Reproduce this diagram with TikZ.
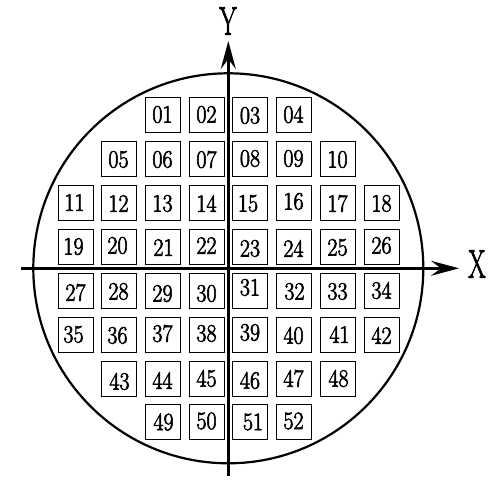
\documentclass[tikz,border=0pt]{standalone}
\usepackage{fontspec}
\newfontfamily\heavyfont[FakeBold=2.5]{Latin Modern Roman}
\usetikzlibrary{arrows.meta}
\begin{document}
\begin{tikzpicture}[x=1pt,y=-1pt,
  die/.style={draw, line width=0.8pt, minimum width=35pt, minimum height=35pt, inner sep=0pt},
  dielabel/.style={inner sep=0pt, font=\heavyfont\fontsize{25}{25}\selectfont},
  axis/.style={line width=2.6pt, -{Stealth[length=28pt,width=15pt,inset=10pt]}},
  axlabel/.style={font=\heavyfont\fontsize{40}{40}\selectfont, inner sep=0pt}]
\useasboundingbox (0,0) rectangle (498,494);
\node (wafer) [circle, draw, line width=2.2pt, minimum size=390pt, inner sep=0pt] at (228.3,268.3) {};
\coordinate (xs) at (21,268.3);
\coordinate (xe) at (459,268.3);
\coordinate (ys) at (228.3,475.5);
\coordinate (ye) at (228.3,41);
\draw[axis] (xs) -- (xe);
\draw[axis] (ys) -- (ye);
\node[axlabel] (xl) at (477,264) {\scalebox{0.62}[1]{X}};
\node[axlabel] (yl) at (228,21) {\scalebox{0.62}[1]{Y}};
\def\cx#1{\ifcase#1\or75.5\or118.5\or162.5\or206.5\or250\or293.5\or337.5\or381.5\fi}
\foreach \n/\c/\r/\dx/\dy in {
 01/3/114.5/0/0, 02/4/114.5/0/0, 03/5/114.5/0/1, 04/6/114.5/0/0,
 05/2/158.5/0/1, 06/3/158.5/0/1, 07/4/158.5/0/1, 08/5/158.5/0/0, 09/6/158.5/0/0, 10/7/158.5/0/1,
 11/1/202.5/-1/0, 12/2/202.5/0/1, 13/3/202.5/0/1, 14/4/202.5/0/1, 15/5/202.5/-2/1, 16/6/202.5/0/-1, 17/7/202.5/0/1, 18/8/202.5/0/1,
 19/1/246.5/-2/0, 20/2/246.5/-1/-1, 21/3/246.5/1/1, 22/4/246.5/0/-1, 23/5/246.5/0/2, 24/6/246.5/0/2, 25/7/246.5/0/1, 26/8/246.5/0/-1,
 27/1/290.5/0/2, 28/2/290.5/0/1, 29/3/290.5/0/3, 30/4/290.5/0/3, 31/5/290.5/0/-3, 32/6/290.5/1/1, 33/7/290.5/0/1, 34/8/290.5/0/0,
 35/1/334.5/-2/0, 36/2/334.5/-1/1, 37/3/334.5/0/-1, 38/4/334.5/0/-1, 39/5/334.5/0/-2, 40/6/334.5/0/1, 41/7/334.5/2/0, 42/8/334.5/0/1,
 43/2/378.5/1/3, 44/3/378.5/0/2, 45/4/378.5/0/0, 46/5/378.5/0/2, 47/6/378.5/0/0, 48/7/378.5/1/0,
 49/3/422/1/0, 50/4/422/0/-1, 51/5/422/3/0, 52/6/422/0/-1}
{
  \node[die] (d\n) at (\cx{\c},\r) {};
  \node[dielabel] (t\n) at ([xshift=\dx pt, yshift=-\dy pt]d\n.center) {\scalebox{0.88}[1]{\n}};
}
\end{tikzpicture}
\end{document}
